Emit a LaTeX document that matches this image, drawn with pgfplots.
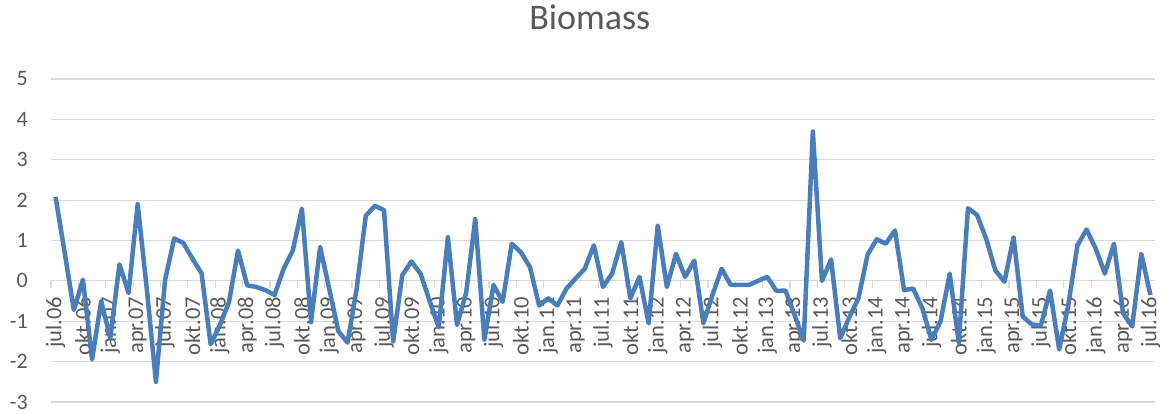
\documentclass[border=0pt]{standalone}
\usepackage{pgfplots}
\pgfplotsset{compat=1.18}
\usepackage{fontspec}
\setmainfont{Carlito}
\definecolor{txtgray}{HTML}{595959}
\definecolor{gridgray}{HTML}{D9D9D9}
\definecolor{lineblue}{HTML}{4A7EBB}
\begin{document}
\begin{tikzpicture}
\useasboundingbox (0,0) rectangle (1168pt,414pt);
\begin{axis}[
  at={(51pt,12pt)}, anchor=south west,
  scale only axis, width=1104pt, height=323pt,
  xmin=-0.5, xmax=120.5, ymin=-3, ymax=5,
  axis x line=middle, axis y line=left,
  x axis line style={draw=gridgray, line width=1.2pt, -},
  y axis line style={draw=none, -},
  ytick={-3,-2,-1,0,1,2,3,4,5},
  yticklabels={-3,-2,-1,0,1,2,3,4,5},
  ymajorgrids, grid style={draw=gridgray, line width=1.2pt},
  xtick={0,3,...,120},
  xticklabels={jul.06,okt.06,jan.07,apr.07,jul.07,okt.07,jan.08,apr.08,jul.08,okt.08,jan.09,apr.09,jul.09,okt.09,jan.10,apr.10,jul.10,okt.10,jan.11,apr.11,jul.11,okt.11,jan.12,apr.12,jul.12,okt.12,jan.13,apr.13,jul.13,okt.13,jan.14,apr.14,jul.14,okt.14,jan.15,apr.15,jul.15,okt.15,jan.16,apr.16,jul.16},
  minor xtick={-0.5,2.5,...,120.5},
  major tick length=0pt, minor tick length=7pt, tick align=outside,
  every minor tick/.append style={draw=gridgray, line width=1.2pt},
  xticklabel style={yshift=-16pt, rotate=90, anchor=east, inner sep=0pt, font=\fontsize{22.5}{24}\selectfont, text=txtgray},
  yticklabel style={anchor=east, inner sep=0pt, xshift=-23pt, font=\fontsize{22}{24}\selectfont, text=txtgray},
  title={Biomass},
  title style={at={(rel axis cs:0.488,1)}, anchor=base, yshift=43pt, font=\fontsize{36}{40}\selectfont, text=txtgray},
  clip=false,
]
\addplot[lineblue, line width=4.5pt, line join=round, no markers] table {
x y
0 2.08
1 0.7
2 -0.72
3 0.03
4 -1.95
5 -0.5
6 -1.42
7 0.41
8 -0.3
9 1.9
10 -0.2
11 -2.5
12 0.02
13 1.05
14 0.94
15 0.55
16 0.19
17 -1.57
18 -1.1
19 -0.53
20 0.75
21 -0.11
22 -0.15
23 -0.23
24 -0.35
25 0.3
26 0.75
27 1.79
28 -1.02
29 0.84
30 -0.2
31 -1.25
32 -1.53
33 -0.2
34 1.61
35 1.86
36 1.75
37 -1.5
38 0.14
39 0.48
40 0.18
41 -0.5
42 -1.15
43 1.08
44 -1.09
45 -0.3
46 1.53
47 -1.46
48 -0.1
49 -0.52
50 0.92
51 0.71
52 0.34
53 -0.61
54 -0.43
55 -0.61
56 -0.19
57 0.06
58 0.3
59 0.88
60 -0.15
61 0.18
62 0.96
63 -0.43
64 0.1
65 -1.05
66 1.37
67 -0.15
68 0.67
69 0.1
70 0.5
71 -1.05
72 -0.35
73 0.3
74 -0.1
75 -0.1
76 -0.1
77 0.0
78 0.1
79 -0.25
80 -0.24
81 -0.85
82 -1.48
83 3.7
84 0.0
85 0.53
86 -1.42
87 -0.9
88 -0.43
89 0.65
90 1.03
91 0.92
92 1.25
93 -0.23
94 -0.19
95 -0.68
96 -1.46
97 -1.0
98 0.18
99 -1.53
100 1.8
101 1.63
102 1.04
103 0.26
104 -0.02
105 1.08
106 -0.88
107 -1.08
108 -1.1
109 -0.24
110 -1.7
111 -0.6
112 0.88
113 1.27
114 0.8
115 0.18
116 0.92
117 -0.8
118 -1.13
119 0.67
120 -0.35
};
\end{axis}
\end{tikzpicture}
\end{document}
